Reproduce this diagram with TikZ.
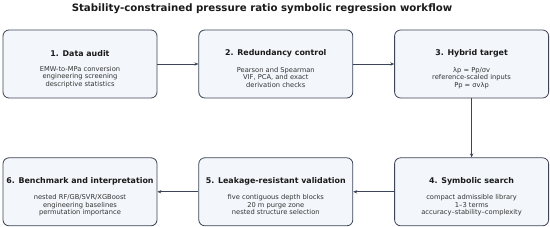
\documentclass[tikz,border=0pt]{standalone}
\usepackage{fontspec}
\setmainfont{DejaVu Sans}
\usetikzlibrary{arrows.meta,positioning}
\definecolor{boxfill}{HTML}{F3F6FA}
\definecolor{boxedge}{HTML}{3B4557}
\definecolor{ink}{HTML}{1A1A1A}
\definecolor{bodyink}{HTML}{333333}

\begin{document}
\begin{tikzpicture}[
  x=1pt,y=1pt,
  >={Stealth[length=4pt,width=3.4pt]},
  stage/.style={draw=boxedge,fill=boxfill,rounded corners=6pt,line width=.8pt,minimum width=154pt,minimum height=68pt,align=center,inner sep=2pt},
  head/.style={font=\bfseries\fontsize{7.9}{9}\selectfont,text=ink},
  flow/.style={draw=boxedge,line width=.8pt,->}
]
  \useasboundingbox (0,0) rectangle (550,227);

  \node[font=\bfseries\fontsize{10.2}{12}\selectfont,text=ink] (title) at (262,218) {Stability-constrained pressure ratio symbolic regression workflow};

  \node[stage] (audit) at (80,163) {};
  \node[stage,right=41pt of audit] (redund) {};
  \node[stage,right=41pt of redund] (target) {};
  \node[stage,below=59pt of target] (search) {};
  \node[stage,left=41pt of search] (valid) {};
  \node[stage,left=41pt of valid] (bench) {};

  % box texts
  \tikzset{body/.style={align=center,font=\fontsize{6.7}{7.5}\selectfont,text=bodyink}}
  \foreach \n/\h/\t in {
    audit/{1. Data audit}/{EMW-to-MPa conversion\\engineering screening\\descriptive statistics},
    redund/{2. Redundancy control}/{Pearson and Spearman\\VIF, PCA, and exact\\derivation checks},
    target/{3. Hybrid target}/{λp = Pp/σv\\reference-scaled inputs\\Pp = σvλp},
    search/{4. Symbolic search}/{compact admissible library\\1–3 terms\\accuracy–stability–complexity},
    valid/{5. Leakage-resistant validation}/{five contiguous depth blocks\\20 m purge zone\\nested structure selection},
    bench/{6. Benchmark and interpretation}/{nested RF/GB/SVR/XGBoost\\engineering baselines\\permutation importance}}
  {
    \node[head] (\n-head) at ([yshift=10.5pt]\n.center) {\h};
    \node[body,anchor=north] (\n-body) at ([yshift=-2.5pt]\n-head.south) {\t};
  }

  \draw[flow] (audit) -- (redund);
  \draw[flow] (redund) -- (target);
  \draw[flow] (target) -- (search);
  \draw[flow] (search) -- (valid);
  \draw[flow] (valid) -- (bench);
\end{tikzpicture}
\end{document}
